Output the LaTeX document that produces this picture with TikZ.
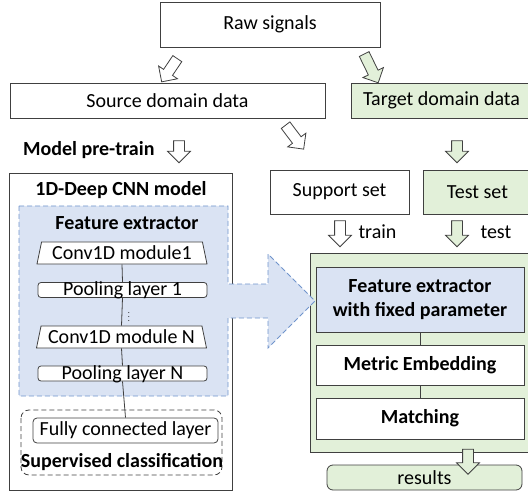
\documentclass[tikz,border=0pt]{standalone}
\usepackage{fontspec}
\setmainfont{Carlito}
\usetikzlibrary{shapes.geometric,shapes.arrows}

\definecolor{boxgreen}{HTML}{E2F0D9}
\definecolor{boxblue}{HTML}{DAE3F3}
\definecolor{dashblue}{HTML}{7094CC}
\definecolor{linegray}{HTML}{404040}

\tikzset{
  box/.style={draw=linegray, line width=0.8pt, fill=white, inner sep=0},
  greenbox/.style={box, fill=boxgreen},
  boldtext/.style={font=\fontsize{20}{24}\selectfont\bfseries},
  convbox/.style={box, trapezium, trapezium angle=72, trapezium stretches body,
    minimum width=170, minimum height=22},
  poolbox/.style={box, rounded corners=3pt, minimum width=169,
    text height=13pt, text depth=2pt},
  hollowarr/.style={single arrow, draw=linegray, line width=0.8pt, fill=white,
    inner xsep=0, inner ysep=5pt, single arrow head extend=6pt},
}

\begin{document}
\begin{tikzpicture}[x=1pt, y=-1pt, font=\fontsize{20}{24}\selectfont]
  \useasboundingbox (0,0) rectangle (528,492);

  % top row
  \node[box, minimum width=220, minimum height=45] (raw) at (270,24.5) {Raw signals};
  \node[box, minimum width=315, minimum height=35] (source) at (167.5,100.5) {Source domain data};
  \node[greenbox, minimum width=181, minimum height=35] (target) at (441.5,100.5) {Target domain data};

  \node[hollowarr, minimum height=28, rotate=-124] (a1) at (171,68) {};
  \node[hollowarr, fill=boxgreen, minimum height=32, rotate=-64] (a2) at (370,66) {};

  \node[anchor=east, boldtext] (pretrain) at (158,150) {Model pre-train};
  \node[hollowarr, minimum height=22, rotate=-90] (a3) at (179,149) {};
  \node[hollowarr, minimum height=30, rotate=-53] (a4) at (293,135) {};
  \node[hollowarr, fill=boxgreen, minimum height=22, rotate=-90] (a5) at (457,149) {};

  % pre-train model
  \draw[linegray, line width=0.8pt] (9,173) rectangle (232,490);
  \node[boldtext] (cnntitle) at (121,190) {1D-Deep CNN model};

  % right part
  \node[box, minimum width=139, minimum height=44] (support) at (339.5,192) {Support set};
  \node[greenbox, minimum width=109, minimum height=44] (testset) at (477.5,192) {Test set};
  \node[hollowarr, minimum height=26, rotate=-90] (a6) at (340,231) {};
  \node[anchor=west] (trainlbl) at (355,232) {train};
  \node[hollowarr, fill=boxgreen, minimum height=26, rotate=-90] (a7) at (457,231) {};
  \node[anchor=west] (testlbl) at (477,232) {test};

  \draw[linegray, line width=0.8pt, fill=boxgreen] (310,253) rectangle (534,452);

  % feature extractor region with big arrow
  \draw[dashblue, line width=0.9pt, dash pattern=on 5pt off 3pt, fill=boxblue]
    (19,206) -- (228,206) -- (228,284) -- (268,284) -- (268,254) -- (315,301)
    -- (268,348) -- (268,318) -- (228,318) -- (228,396) -- (19,396) -- cycle;
  \node[boldtext] (fetitle) at (127,223) {Feature extractor};

  \node[convbox] (conv1) at (122,253) {Conv1D module1};
  \node[poolbox] (pool1) at (122.5,290) {Pooling layer 1};
  \node[convbox] (convN) at (121.5,337) {Conv1D module N};
  \node[poolbox] (poolN) at (122.5,373.5) {Pooling layer N};
  \draw[linegray, line width=0.8pt] (conv1.south) -- (pool1.north);
  \draw[linegray, line width=0.8pt] (pool1.south) -- (convN.north);
  \draw[linegray, line width=0.8pt] (convN.south) -- (poolN.north);
  \node[inner sep=0, font=\footnotesize] (dots) at (129,314) {$\vdots$};

  \draw[rounded corners=8pt, linegray, line width=0.8pt, dash pattern=on 5pt off 3pt]
    (21,410) rectangle (222,475);
  \node[box, rounded corners=4pt, minimum width=185, minimum height=25] (fc) at (125.5,430.5) {Fully connected layer};
  \node[boldtext] (suplbl) at (122,462) {Supervised classification};
  \draw[linegray, line width=0.8pt] (poolN.south) -- (fc.north);

  \node[box, fill=boxblue, minimum width=208, minimum height=65, align=center,
    boldtext] (fixed) at (420,299.5) {Feature extractor\\with fixed parameter};
  \node[box, minimum width=208, minimum height=40, boldtext] (metric) at (420,365) {Metric Embedding};
  \node[box, minimum width=208, minimum height=41, boldtext] (match) at (420,418.5) {Matching};
  \draw[linegray, line width=0.8pt] (fixed.south) -- (metric.north);
  \draw[linegray, line width=0.8pt] (metric.south) -- (match.north);

  \node[greenbox, rounded corners=6pt, minimum width=195, minimum height=25] (results) at (424.5,477.5) {results};
  \node[hollowarr, fill=boxgreen, minimum height=25, rotate=-90] (a8) at (468,459) {};
\end{tikzpicture}
\end{document}
